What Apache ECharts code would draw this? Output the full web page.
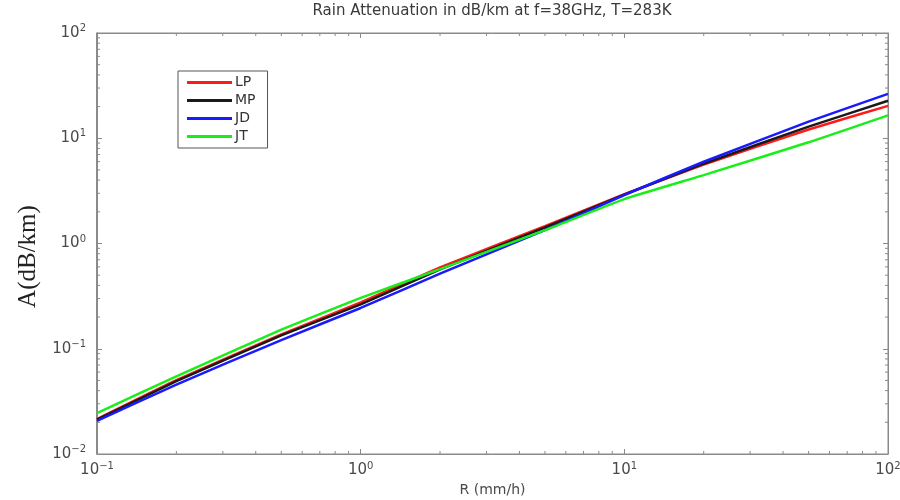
<!DOCTYPE html>
<html><head><meta charset="utf-8">
<script src="https://cdn.jsdelivr.net/npm/echarts@6/dist/echarts.min.js"></script>
<style>html,body{margin:0;padding:0;background:#fff}#c{width:900px;height:500px}</style>
</head><body><div id="c"></div>
<script>
// Rain rate R (mm/h)
const R = [0.1, 0.2, 0.5, 1, 2, 5, 10, 20, 50, 100];
// Specific attenuation A (dB/km)
const LP = [0.0215, 0.0503, 0.137, 0.276, 0.592, 1.46, 2.94, 5.63, 12.1, 20.3];
const MP = [0.0212, 0.0492, 0.134, 0.264, 0.567, 1.42, 2.91, 5.73, 12.9, 22.7];
const JD = [0.0206, 0.0457, 0.121, 0.244, 0.517, 1.34, 2.89, 5.98, 14.4, 26.4];
const JT = [0.0245, 0.0546, 0.152, 0.304, 0.571, 1.34, 2.64, 4.46, 9.15, 16.5];
const seriesNames = ['LP', 'MP', 'JD', 'JT'];
const seriesColors = ['#ff1a1a', '#1a1a1a', '#1a1aff', '#1aee1a'];
// Axis ticks
const xMajor = [0.1, 1, 10, 100];
const yMajor = [0.01, 0.1, 1, 10, 100];
const minorMult = [2, 3, 4, 5, 6, 7, 8, 9];

const allSeries = [LP, MP, JD, JT];
function minorVals(majors) {
  const out = [];
  for (let i = 0; i < majors.length - 1; i++) minorMult.forEach(m => out.push(majors[i] * m));
  return out;
}
const xMinorData = minorVals(xMajor).map(v => [v, 1]);
const yMinorData = minorVals(yMajor).map(v => [1, v]);

function expLabel(v) {
  const e = Math.round(Math.log10(v));
  return '{b|10}{e|' + (e < 0 ? '\u2212' + (-e) : e) + '}';
}
const labelRich = {
  b: { fontFamily: 'DejaVu Sans', fontSize: 15, color: '#4a4a4a' },
  e: { fontFamily: 'DejaVu Sans', fontSize: 10, color: '#4a4a4a', verticalAlign: 'top', padding: [0, 0, 9, 0] }
};
const tickColor = '#8a8a8a';

function axisBase(showLabel) {
  return {
    type: 'log', logBase: 10,
    axisLine: { show: true, lineStyle: { color: tickColor, width: 1 } },
    axisTick: { show: true, inside: true, length: 5, lineStyle: { color: tickColor } },
    splitLine: { show: false },
    axisLabel: { show: showLabel, formatter: expLabel, rich: labelRich }
  };
}

const series = allSeries.map((arr, i) => ({
  name: seriesNames[i], type: 'line', symbol: 'none', smooth: 0.12,
  data: R.map((r, k) => [r, arr[k]]),
  lineStyle: { width: 2.5, color: seriesColors[i] },
  itemStyle: { color: seriesColors[i] },
  z: 3
}));
series.push({
  type: 'custom', silent: true, data: xMinorData, z: 1,
  renderItem: function (params, api) {
    const cs = params.coordSys;
    const x = api.coord([api.value(0), 1])[0];
    return { type: 'group', children: [
      { type: 'line', shape: { x1: x, y1: cs.y + cs.height, x2: x, y2: cs.y + cs.height - 3 }, style: { stroke: tickColor, lineWidth: 1 } },
      { type: 'line', shape: { x1: x, y1: cs.y, x2: x, y2: cs.y + 3 }, style: { stroke: tickColor, lineWidth: 1 } }
    ] };
  }
});
series.push({
  type: 'custom', silent: true, data: yMinorData, z: 1,
  renderItem: function (params, api) {
    const cs = params.coordSys;
    const y = api.coord([1, api.value(1)])[1];
    return { type: 'group', children: [
      { type: 'line', shape: { x1: cs.x, y1: y, x2: cs.x + 3, y2: y }, style: { stroke: tickColor, lineWidth: 1 } },
      { type: 'line', shape: { x1: cs.x + cs.width, y1: y, x2: cs.x + cs.width - 3, y2: y }, style: { stroke: tickColor, lineWidth: 1 } }
    ] };
  }
});

const chart = echarts.init(document.getElementById('c'), null, { renderer: 'canvas' });
chart.setOption({
  backgroundColor: '#fff',
  animation: false,
  title: {
    text: 'Rain Attenuation in dB/km at f=38GHz, T=283K',
    left: 492, top: 4, padding: 0, textAlign: 'center',
    textStyle: { fontFamily: 'DejaVu Sans', fontSize: 15, fontWeight: 'normal', color: '#3a3a3a' }
  },
  grid: { left: 97, right: 12, top: 33, bottom: 46, containLabel: false, outerBoundsMode: 'none',
    show: true, borderColor: tickColor, borderWidth: 1 },
  legend: {
    data: seriesNames, orient: 'vertical', left: 178, top: 71,
    icon: 'rect', itemWidth: 45, itemHeight: 3, itemGap: 3,
    padding: [4, 12, 4, 9], borderColor: '#555', borderWidth: 1,
    textStyle: { fontFamily: 'DejaVu Sans', fontSize: 14, color: '#333', lineHeight: 15, padding: [0, 0, 0, -2] }
  },
  xAxis: [
    Object.assign(axisBase(true), {
      min: 0.1, max: 100, position: 'bottom',
      axisLabel: { show: true, formatter: expLabel, rich: labelRich, margin: 7 },
      name: 'R (mm/h)', nameLocation: 'middle', nameGap: 26,
      nameTextStyle: { fontFamily: 'DejaVu Sans', fontSize: 14, color: '#4a4a4a' }
    }),
    Object.assign(axisBase(false), { min: 0.1, max: 100, position: 'top' })
  ],
  yAxis: [
    Object.assign(axisBase(true), {
      min: 0.01, max: 100, position: 'left',
      axisLine: { show: true, lineStyle: { color: '#777', width: 1.5 } },
      axisLabel: { show: true, formatter: expLabel, rich: labelRich, margin: 11 },
      name: 'A(dB/km)', nameLocation: 'middle', nameGap: 56, nameRotate: 90,
      nameTextStyle: { fontFamily: 'Liberation Serif', fontSize: 25, color: '#222', padding: [0, 26, 0, 0] }
    }),
    Object.assign(axisBase(false), { min: 0.01, max: 100, position: 'right' })
  ],
  series: series
});
</script></body></html>
